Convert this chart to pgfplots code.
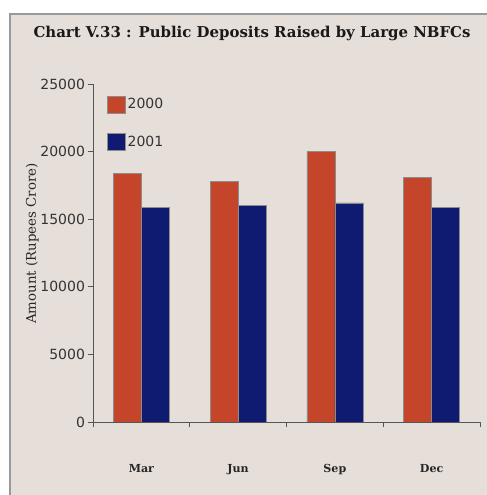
\documentclass[border=0pt]{standalone}
\usepackage{pgfplots}
\pgfplotsset{compat=1.18}
\usepackage{fontspec}
\setmainfont{DejaVu Serif}
\setsansfont{DejaVu Sans}
\definecolor{bg}{HTML}{E6DED9}
\definecolor{oc}{HTML}{C4452A}
\definecolor{nv}{HTML}{0F1B70}
\definecolor{ax}{HTML}{555555}
\begin{document}
\begin{tikzpicture}[x=0.75pt,y=0.75pt]
\useasboundingbox (0,0) rectangle (486,495);
\fill[white] (0,0) rectangle (486,495);
\filldraw[fill=bg, draw=gray!80, line width=1.2pt] (10,-5) rectangle (495,481);
\node[font=\bfseries\fontsize{11.2}{13}\selectfont, text=black!90] at (252,462) {Chart V.33 : Public Deposits Raised by Large NBFCs};
\begin{axis}[
  at={(69.75pt,54.75pt)}, anchor=south west,
  scale only axis, width=290.25pt, height=253.5pt,
  xmin=-0.5, xmax=3.5, ymin=0, ymax=25000,
  axis x line*=bottom, axis y line*=left,
  axis line style={-, draw=ax, line width=0.6pt},
  tick style={draw=ax, line width=0.6pt},
  tick align=outside, major tick length=4pt,
  ytick={0,5000,10000,15000,20000,25000},
  scaled y ticks=false,
  /pgf/number format/1000 sep={},
  /pgf/number format/assume math mode=true,
  yticklabel style={font=\sffamily\fontsize{10.5}{12}\selectfont, text=black!80, xshift=1.5pt},
  xtick={-0.5,0.5,1.5,2.5,3.5},
  x tick label as interval,
  xticklabels={Mar,Jun,Sep,Dec},
  xticklabel style={font=\bfseries\fontsize{8.3}{10}\selectfont, text=black!85, yshift=-24pt},
  ylabel={Amount (Rupees Crore)},
  ylabel style={font=\fontsize{10}{12}\selectfont, text=black!85, yshift=-5.5pt, xshift=7pt},
  ybar=0pt, bar width=21pt,
  legend style={at={(axis description cs:0.036,0.967)}, anchor=north west, draw=none, fill=none, inner sep=0pt, row sep=15pt, font=\sffamily\fontsize{10.5}{12}\selectfont, text=black!80, /tikz/every even column/.append style={column sep=4pt}},
  legend image code/.code={\fill[#1] (0pt,-6.4pt) rectangle (13pt,6.4pt);},
  legend cell align=left,
]
\addplot[fill=oc, draw=black!45, line width=0.3pt] coordinates {(0,18400) (1,17800) (2,20000) (3,18100)};
\addplot[fill=nv, draw=black!45, line width=0.3pt] coordinates {(0,15900) (1,16000) (2,16200) (3,15900)};
\legend{2000,2001}
\end{axis}
\end{tikzpicture}
\end{document}
